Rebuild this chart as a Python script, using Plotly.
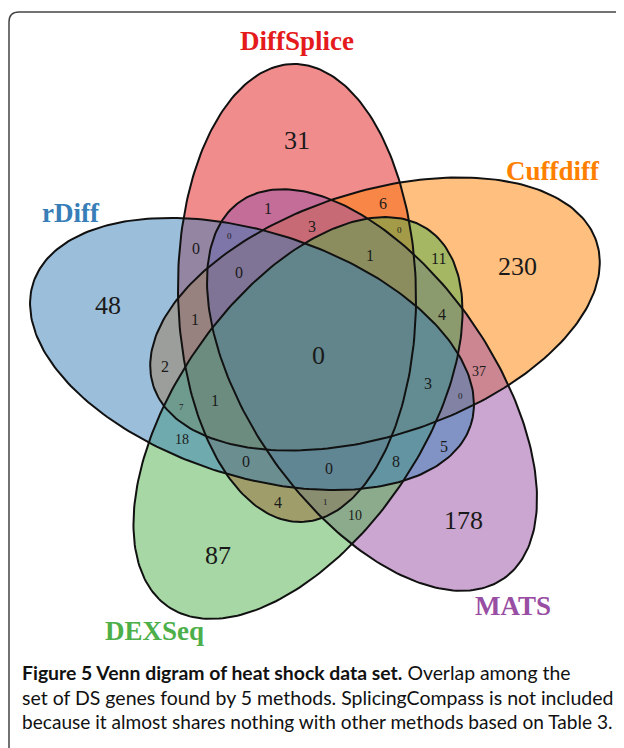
import numpy as np
import plotly.graph_objects as go

# ---------------- data ----------------
set_names = ["DiffSplice", "Cuffdiff", "MATS", "DEXSeq", "rDiff"]

region_sets = [
    "DiffSplice", "Cuffdiff", "rDiff", "MATS", "DEXSeq",
    "DiffSplice&Cuffdiff&MATS&DEXSeq&rDiff",
    "DiffSplice&MATS", "DiffSplice&Cuffdiff", "DiffSplice&Cuffdiff&MATS",
    "rDiff&DiffSplice&MATS", "DiffSplice&Cuffdiff&DEXSeq", "rDiff&DiffSplice",
    "DiffSplice&Cuffdiff&MATS&DEXSeq", "Cuffdiff&DEXSeq", "rDiff&DiffSplice&Cuffdiff&MATS",
    "rDiff&DiffSplice&Cuffdiff", "Cuffdiff&MATS&DEXSeq", "rDiff&Cuffdiff", "Cuffdiff&MATS",
    "rDiff&Cuffdiff&MATS&DEXSeq", "rDiff&Cuffdiff&MATS", "rDiff&DiffSplice&Cuffdiff&DEXSeq",
    "rDiff&Cuffdiff&DEXSeq", "rDiff&DEXSeq", "rDiff&MATS", "rDiff&DiffSplice&DEXSeq",
    "rDiff&DiffSplice&MATS&DEXSeq", "rDiff&MATS&DEXSeq", "DiffSplice&DEXSeq",
    "DiffSplice&MATS&DEXSeq", "MATS&DEXSeq",
]
region_counts = [31, 230, 48, 178, 87, 0, 1, 6, 3, 0, 0, 0, 1, 11, 0, 1, 4, 2, 37,
                 3, 0, 1, 7, 18, 5, 0, 0, 8, 4, 1, 10]

caption_bold = "Figure 5 Venn digram of heat shock data set."
caption_lines = [
    " Overlap among the",
    "set of DS genes found by 5 methods. SplicingCompass is not included",
    "because it almost shares nothing with other methods based on Table 3.",
]

# ---------------- layout / style (pixel space of the page) ----------------
PAGE_W, PAGE_H = 624, 748
BODY = 8  # default page margin around the plot div
set_colors = {"DiffSplice": (228, 26, 28), "Cuffdiff": (255, 127, 0),
              "MATS": (152, 78, 163), "DEXSeq": (77, 175, 74), "rDiff": (55, 126, 184)}
# ellipse geometry: centre, semi-axes, rotation (deg)
ell_geom = {
    "DiffSplice": ((297, 293), 229, 119, 89.0),
    "Cuffdiff": ((375, 314), 233, 122, 162.0),
    "MATS": ((372, 390), 230, 121, 55.0),
    "DEXSeq": ((298, 418), 229, 122.5, 124.6),
    "rDiff": ((252, 354), 230, 122, 18.0),
}
set_label_pos = {"DiffSplice": (297, 41), "Cuffdiff": (553, 171), "MATS": (513, 606),
                 "DEXSeq": (154, 631), "rDiff": (71, 213)}

region_pos = [(297, 140), (517, 266), (108, 305), (463, 520), (218, 555), (318, 355),
              (268, 208), (383, 203), (312, 226), (229, 236), (399, 230), (196, 248),
              (370, 255), (438, 258), (239, 272), (195, 319), (442, 314), (165, 366),
              (479, 371), (428, 383), (460, 396), (215, 400), (181, 407), (182, 439),
              (444, 446), (246, 461), (329, 468), (396, 461), (278, 502), (325, 502),
              (355, 515)]


def region_size(name):
    n = len(name.split("&"))
    if n == 1 or n == 5:
        return 26
    if name in ("rDiff&DiffSplice&MATS", "DiffSplice&Cuffdiff&DEXSeq",
                "rDiff&Cuffdiff&MATS", "rDiff&Cuffdiff&DEXSeq", "DiffSplice&MATS&DEXSeq"):
        return 9
    if name in ("Cuffdiff&MATS", "rDiff&DEXSeq", "MATS&DEXSeq"):
        return 14
    return 16


def ellipse(name, n=260):
    (cx, cy), a, b, ang = ell_geom[name]
    th = np.deg2rad(ang)
    t = np.linspace(0, 2 * np.pi, n)
    x = a * np.cos(t)
    y = b * np.sin(t)
    return cx + x * np.cos(th) - y * np.sin(th), cy + x * np.sin(th) + y * np.cos(th)


fig = go.Figure()

# fills first (alpha blended in drawing order)
for name in set_names:
    x, y = ellipse(name)
    r, g, b = set_colors[name]
    fig.add_trace(go.Scatter(x=x, y=y, mode="lines", fill="toself",
                             fillcolor=f"rgba({r},{g},{b},0.5)",
                             line=dict(width=0, color="rgba(0,0,0,0)"),
                             hoverinfo="skip", showlegend=False))
# outlines on top
for name in set_names:
    x, y = ellipse(name)
    fig.add_trace(go.Scatter(x=x, y=y, mode="lines",
                             line=dict(width=2, color="#111111"),
                             hoverinfo="skip", showlegend=False))

# region counts
for name, cnt, (px, py) in zip(region_sets, region_counts, region_pos):
    fig.add_annotation(x=px, y=py, text=str(cnt), showarrow=False,
                       xanchor="center", yanchor="middle",
                       font=dict(family="Liberation Serif", size=region_size(name),
                                 color="#1a1a1a"))

# set labels
for name in set_names:
    px, py = set_label_pos[name]
    r, g, b = set_colors[name]
    fig.add_annotation(x=px, y=py, text=f"<b>{name}</b>", showarrow=False,
                       xanchor="center", yanchor="middle",
                       font=dict(family="Liberation Serif", size=27,
                                 color=f"rgb({r},{g},{b})"))

# caption
cap_y = [672, 697, 721]
cap_sizes = [19.4, 19.5, 19.1]
fig.add_annotation(x=20, y=cap_y[0], text=f"<b>{caption_bold}</b>{caption_lines[0]}",
                   showarrow=False, xanchor="left", yanchor="middle",
                   font=dict(family="Lato", size=cap_sizes[0], color="#111111"))
for line, yy, fs in zip(caption_lines[1:], cap_y[1:], cap_sizes[1:]):
    fig.add_annotation(x=20, y=yy, text=line, showarrow=False,
                       xanchor="left", yanchor="middle",
                       font=dict(family="Lato", size=fs, color="#111111"))

# frame
fig.add_shape(type="path", path="M 9 760 L 9 22 Q 9 12 19 12 L 640 12",
              line=dict(color="#444444", width=1.5), layer="above")

fig.update_layout(
    width=PAGE_W - BODY, height=PAGE_H - BODY, autosize=False,
    margin=dict(l=0, r=0, t=0, b=0),
    paper_bgcolor="white", plot_bgcolor="white",
    xaxis=dict(range=[BODY, PAGE_W], visible=False, fixedrange=True),
    yaxis=dict(range=[PAGE_H, BODY], visible=False, fixedrange=True),
)

fig.write_html("out.html")
